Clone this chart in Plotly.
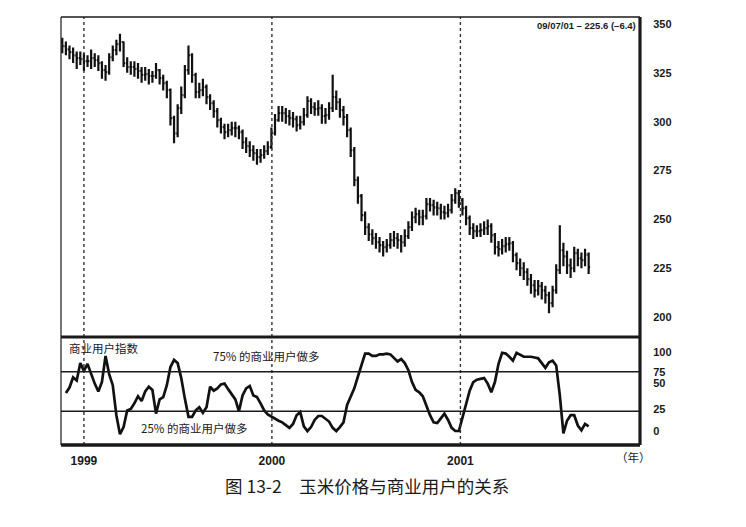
import plotly.graph_objects as go
import pandas as pd

# ---------------- data ----------------
first_week = "1998-11-20"          # weekly bars, last bar 09/07/01
open_px = [
341.0, 338.7, 337.0, 335.6, 334.0, 332.6, 332.0, 331.0, 331.0, 332.6,
331.6, 330.0, 326.4, 325.4, 333.0, 336.7, 339.7, 340.8, 330.0, 328.0,
328.0, 327.0, 326.0, 324.0, 324.4, 323.4, 323.4, 326.4, 322.3, 319.8,
316.2, 301.8, 294.0, 307.0, 313.6, 326.4, 334.1, 323.9, 315.2, 316.2,
317.7, 312.6, 309.5, 305.4, 300.8, 297.2, 294.7, 295.7, 296.7, 296.7,
294.7, 289.5, 287.5, 285.4, 283.9, 281.9, 282.9, 284.9, 287.0, 294.2,
300.8, 304.4, 304.4, 302.9, 301.8, 301.3, 298.3, 299.8, 303.4, 310.6,
307.5, 306.5, 307.0, 302.9, 303.4, 307.0, 312.6, 310.0, 305.9, 302.4,
295.7, 285.4, 270.1, 261.9, 252.2, 246.0, 242.4, 240.4, 238.3, 236.8,
235.8, 236.8, 239.4, 240.4, 239.4, 238.3, 241.4, 246.0, 251.1, 252.7,
251.1, 251.6, 257.8, 257.3, 256.2, 255.7, 253.7, 253.2, 254.7, 259.8,
263.4, 259.8, 255.7, 250.6, 245.5, 244.0, 244.0, 244.5, 245.5, 246.5,
241.9, 235.8, 234.8, 236.3, 237.3, 237.8, 231.7, 227.6, 225.0, 223.0,
219.4, 216.3, 213.7, 215.8, 213.7, 211.2, 207.1, 213.7, 224.0, 234.2,
231.1, 226.5, 225.0, 232.7, 230.1, 229.1, 232.0]

high_px = [
343, 341, 339, 338, 336, 336, 335, 334, 337, 335,
334, 331, 329, 335, 339, 342, 345, 341, 333, 331,
331, 330, 328, 328, 327, 326, 330, 327, 324, 321,
317, 303, 309, 318, 329, 339, 335, 325, 320, 322,
319, 314, 311, 307, 302, 299, 299, 300, 300, 298,
296, 292, 290, 288, 286, 286, 288, 290, 297, 304,
308, 308, 307, 306, 305, 303, 303, 307, 313, 312,
310, 311, 309, 307, 310, 324, 316, 312, 308, 304,
297, 287, 272, 263, 254, 248, 245, 243, 241, 239,
240, 243, 244, 243, 242, 245, 249, 254, 256, 255,
255, 261, 261, 260, 259, 258, 257, 258, 263, 266,
265, 261, 257, 252, 248, 247, 248, 249, 250, 248,
243, 239, 240, 241, 241, 239, 233, 230, 228, 225,
222, 219, 219, 218, 216, 213, 216, 227, 247, 238,
234, 230, 236, 235, 233, 235, 233]

low_px = [
335, 334, 332, 330, 327, 329, 326, 328, 327, 328,
326, 322, 321, 324, 331, 334, 336, 328, 325, 324,
323, 322, 320, 321, 319, 320, 322, 319, 316, 312,
298, 289, 292, 304, 312, 324, 320, 312, 312, 313,
309, 306, 302, 297, 294, 291, 292, 293, 292, 291,
286, 284, 282, 280, 278, 279, 281, 283, 286, 293,
300, 300, 299, 298, 297, 295, 296, 298, 302, 304,
303, 303, 299, 299, 301, 305, 306, 302, 298, 292,
282, 267, 258, 249, 242, 239, 237, 235, 233, 231,
233, 235, 236, 235, 233, 236, 240, 244, 248, 247,
247, 250, 254, 252, 252, 250, 250, 251, 253, 258,
256, 252, 247, 242, 240, 241, 241, 242, 242, 238,
232, 231, 232, 233, 234, 228, 224, 221, 219, 216,
212, 210, 211, 209, 207, 202, 205, 212, 222, 226,
222, 220, 223, 226, 225, 226, 222]

close_px = [
338.7, 337.0, 335.6, 334.0, 332.6, 332.0, 331.0, 331.0, 332.6, 331.6,
330.0, 326.4, 325.4, 333.0, 336.7, 339.7, 340.8, 330.0, 328.0, 328.0,
327.0, 326.0, 324.0, 324.4, 323.4, 323.4, 326.4, 322.3, 319.8, 316.2,
301.8, 294.0, 307.0, 313.6, 326.4, 334.1, 323.9, 315.2, 316.2, 317.7,
312.6, 309.5, 305.4, 300.8, 297.2, 294.7, 295.7, 296.7, 296.7, 294.7,
289.5, 287.5, 285.4, 283.9, 281.9, 282.9, 284.9, 287.0, 294.2, 300.8,
304.4, 304.4, 302.9, 301.8, 301.3, 298.3, 299.8, 303.4, 310.6, 307.5,
306.5, 307.0, 302.9, 303.4, 307.0, 312.6, 310.0, 305.9, 302.4, 295.7,
285.4, 270.1, 261.9, 252.2, 246.0, 242.4, 240.4, 238.3, 236.8, 235.8,
236.8, 239.4, 240.4, 239.4, 238.3, 241.4, 246.0, 251.1, 252.7, 251.1,
251.6, 257.8, 257.3, 256.2, 255.7, 253.7, 253.2, 254.7, 259.8, 263.4,
259.8, 255.7, 250.6, 245.5, 244.0, 244.0, 244.5, 245.5, 246.5, 241.9,
235.8, 234.8, 236.3, 237.3, 237.8, 231.7, 227.6, 225.0, 223.0, 219.4,
216.3, 213.7, 215.8, 213.7, 211.2, 207.1, 213.7, 224.0, 234.2, 231.1,
226.5, 225.0, 232.7, 230.1, 229.1, 232.0, 225.6]

commercial_index = [
None, 48, 55, 68, 64, 86, 76, 85, 72, 60,
50, 62, 95, 72, 58, 20, -4, 5, 26, 28,
35, 44, 38, 50, 56, 52, 22, 40, 43, 58,
81, 90, 86, 67, 41, 18, 18, 26, 30, 23,
30, 56, 51, 54, 59, 60, 53, 47, 40, 25,
45, 54, 57, 45, 43, 35, 26, 21, 18, 15,
13, 11, 7, 4, 9, 20, 24, 6, 0, 5,
14, 19, 19, 16, 12, 4, 0, 5, 11, 33,
43, 54, 69, 85, 98, 98, 95, 95, 97, 97,
98, 97, 92, 88, 91, 86, 77, 62, 52, 49,
44, 31, 20, 11, 10, 16, 22, 14, 4, 0,
0, 17, 34, 51, 62, 65, 66, 67, 60, 49,
62, 85, 99, 98, 94, 89, 99, 96, 94, 94,
94, 93, 92, 86, 80, 87, 89, 83, 45, -3,
13, 20, 20, 7, 1, 9, 6]

year_starts = ["1999-01-01", "2000-01-01", "2001-01-01"]
year_labels = ["1999", "2000", "2001"]
price_ticks = [200, 225, 250, 275, 300, 325, 350]
index_tick_pos = [100, 74, 60, 28, 0]
index_tick_text = ["100", "75", "50", "25", "0"]
index_bands = [75, 25]

dates = pd.date_range(first_week, periods=len(close_px), freq="7D")

# ---------------- figure ----------------
OFF = 8                                  # browser body margin
W, H = 746 - OFF, 527 - OFF
L, R, T, B = 61, 640, 17, 445            # plot frame in reference pixels
SPLIT = 337                              # panel separator pixel row
pw, ph = R - L, B - T
split_p = (B - SPLIT) / ph

def px(x):
    return (x - L) / pw

def py(y):
    return (B - y) / ph

fig = go.Figure()
fig.add_trace(go.Ohlc(
    x=dates, open=open_px, high=high_px, low=low_px, close=close_px,
    increasing=dict(line=dict(color="#111111", width=2.2)),
    decreasing=dict(line=dict(color="#111111", width=2.2)),
    tickwidth=0.4, xaxis="x", yaxis="y", showlegend=False, hoverinfo="skip"))
fig.add_trace(go.Scatter(
    x=dates, y=commercial_index, mode="lines",
    line=dict(color="#111111", width=2.7), xaxis="x", yaxis="y2",
    showlegend=False, hoverinfo="skip"))

tickfont = dict(family="Liberation Sans, Arial", size=11, color="#1a1a1a", weight="bold")

fig.update_layout(
    width=W, height=H,
    margin=dict(l=L - OFF, r=W - (R - OFF), t=T - OFF, b=H - (B - OFF)),
    paper_bgcolor="white", plot_bgcolor="white",
    xaxis=dict(
        type="date", range=["1998-11-17 12:00", "2001-12-15 17:00"],
        domain=[0, 1], anchor="y2", rangeslider=dict(visible=False),
        showgrid=False, zeroline=False, showline=False,
        tickvals=year_starts, ticktext=year_labels,
        tickfont=dict(family="Liberation Sans, Arial", size=12, color="#1a1a1a", weight="bold"),
        ticks="outside", ticklen=5, tickcolor="rgba(0,0,0,0)"),
    yaxis=dict(
        domain=[split_p, 1], range=[189.8, 353.6], side="right",
        showgrid=False, zeroline=False, showline=False,
        tickvals=price_ticks, tickfont=tickfont,
        ticks="outside", ticklen=10, tickcolor="rgba(0,0,0,0)"),
    yaxis2=dict(
        domain=[0, split_p], range=[-17.7, 119], side="right",
        showgrid=False, zeroline=False, showline=False,
        tickvals=index_tick_pos, ticktext=index_tick_text, tickfont=tickfont,
        ticks="outside", ticklen=10, tickcolor="rgba(0,0,0,0)"),
)

shapes = []
for d in year_starts:
    shapes.append(dict(type="line", xref="x", yref="paper", x0=d, x1=d, y0=0, y1=1,
                       line=dict(color="#333333", width=1.4, dash="dot"), layer="above"))
for v in index_bands:
    shapes.append(dict(type="line", xref="paper", yref="y2", x0=0, x1=1, y0=v, y1=v,
                       line=dict(color="#1a1a1a", width=1.6)))
frame = [
    (0, 0, 0, 1, 1.2),
    (0, 1, 1, 1, 1.4),
    (1, 0, 1, 1, 3.2),
    (0, split_p, 1, split_p, 3.2),
    (0, 0, 1, 0, 3.6),
]
for x0, y0, x1, y1, w in frame:
    shapes.append(dict(type="line", xref="paper", yref="paper", x0=x0, y0=y0, x1=x1, y1=y1,
                       line=dict(color="#1a1a1a", width=w), layer="above"))
fig.update_layout(shapes=shapes)

cjk = "Noto Sans CJK SC"
ann = [
    dict(x=px(638), y=py(25), text="<b>09/07/01 – 225.6 (–6.4)</b>", xanchor="right", yanchor="middle",
         font=dict(family="Liberation Sans, Arial", size=9.5, color="#1a1a1a")),
    dict(x=px(67), y=py(348), text="商业用户指数", xanchor="left", yanchor="middle",
         font=dict(family=cjk, size=11.5, color="#1a1a1a")),
    dict(x=px(211), y=py(356), text="75% 的商业用户做多", xanchor="left", yanchor="middle",
         font=dict(family=cjk, size=11.5, color="#1a1a1a")),
    dict(x=px(139), y=py(428), text="25% 的商业用户做多", xanchor="left", yanchor="middle",
         font=dict(family=cjk, size=11.5, color="#1a1a1a")),
    dict(x=px(614), y=py(457), text="（年）", xanchor="left", yanchor="middle",
         font=dict(family=cjk, size=11.5, color="#1a1a1a")),
    dict(x=px(367), y=py(486), text="图 13-2　玉米价格与商业用户的关系", xanchor="center", yanchor="middle",
         font=dict(family=cjk, size=17.5, color="#1a1a1a")),
]
for a in ann:
    a.update(xref="paper", yref="paper", showarrow=False)
fig.update_layout(annotations=ann)

fig.write_html("out.html")
